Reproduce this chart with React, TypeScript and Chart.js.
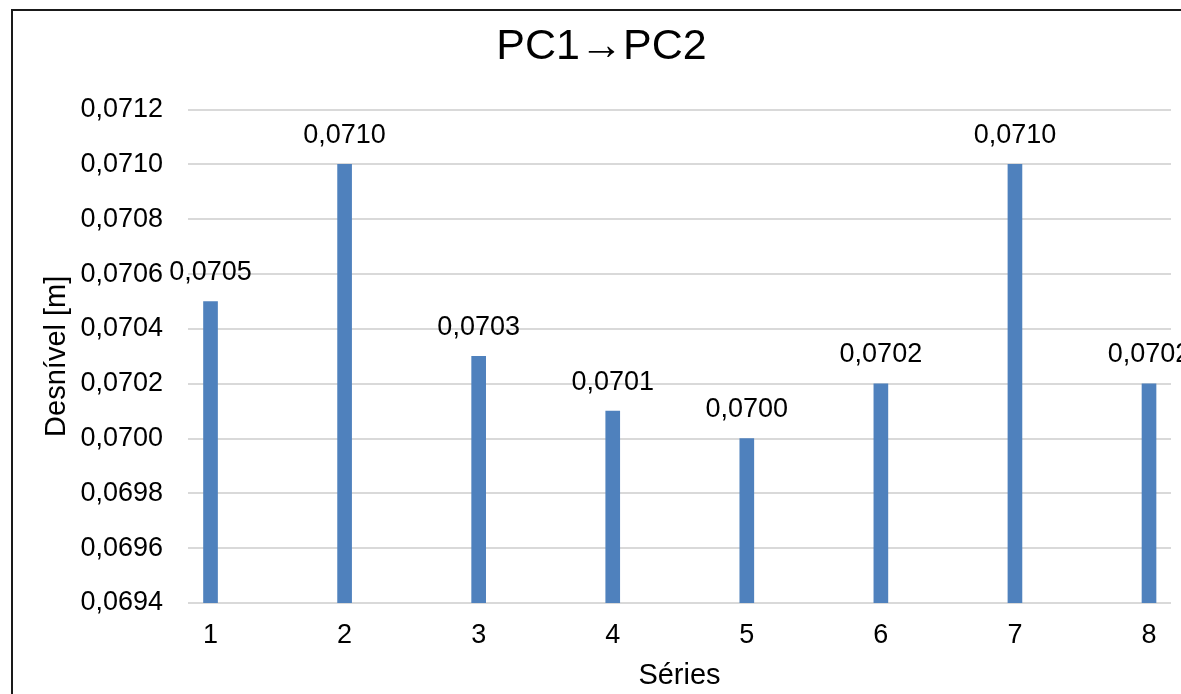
import React, { useEffect, useRef } from "react";
import { Chart, registerables } from "chart.js";

Chart.register(...registerables);

const chartTitle = "PC1→PC2";
const xAxisTitle = "Séries";
const yAxisTitle = "Desnível [m]";
const categories = [1, 2, 3, 4, 5, 6, 7, 8];
const values = [0.0705, 0.071, 0.0703, 0.0701, 0.07, 0.0702, 0.071, 0.0702];
const yTicks = [0.0694, 0.0696, 0.0698, 0.07, 0.0702, 0.0704, 0.0706, 0.0708, 0.071, 0.0712];

const FONT = "'Liberation Sans', Arial, sans-serif";
const fmt = (v: number) => v.toFixed(4).replace(".", ",");

export default function App() {
  const ref = useRef<HTMLCanvasElement | null>(null);

  useEffect(() => {
    if (!ref.current) return;
    Chart.defaults.font.family = FONT;

    const bgBorder = {
      id: "bgBorder",
      beforeDraw(chart: any) {
        const ctx = chart.ctx;
        ctx.save();
        ctx.fillStyle = "#ffffff";
        ctx.fillRect(0, 0, chart.width, chart.height);
        ctx.strokeStyle = "#1a1a1a";
        ctx.lineWidth = 2;
        ctx.beginPath();
        ctx.moveTo(12, chart.height + 2);
        ctx.lineTo(12, 10);
        ctx.lineTo(chart.width + 2, 10);
        ctx.stroke();
        ctx.restore();
      },
    };

    const dataLabels = {
      id: "dataLabels",
      afterDatasetsDraw(chart: any) {
        const ctx = chart.ctx;
        const meta = chart.getDatasetMeta(0);
        ctx.save();
        ctx.font = `27px ${FONT}`;
        ctx.fillStyle = "#000000";
        ctx.textAlign = "center";
        ctx.textBaseline = "middle";
        meta.data.forEach((el: any, i: number) => {
          ctx.fillText(fmt(values[i]), el.x, el.y - 29);
        });
        ctx.restore();
      },
    };

    const chart = new Chart(ref.current, {
      type: "bar",
      data: {
        datasets: [
          {
            data: categories.map((c, i) => ({ x: c, y: values[i] })),
            backgroundColor: "#4f81bd",
            borderWidth: 0,
            barThickness: 14,
          },
        ],
      },
      options: {
        responsive: false,
        animation: false,
        layout: { padding: { top: 0, left: 0, right: 0, bottom: 0 } },
        plugins: {
          legend: { display: false },
          tooltip: { enabled: false },
          title: {
            display: true,
            text: chartTitle,
            color: "#000000",
            font: { size: 43, weight: "normal", family: FONT },
            padding: { top: 21, bottom: 37 },
          },
        },
        scales: {
          x: {
            type: "linear",
            offset: false,
            min: 0.832,
            max: 8.164,
            afterBuildTicks: (scale: any) => {
              scale.ticks = categories.map((v) => ({ value: v }));
            },
            afterFit: (scale: any) => {
              scale.height = 91;
            },
            grid: { display: false, drawTicks: false, offset: false },
            border: { display: false },
            ticks: {
              color: "#000000",
              font: { size: 27, family: FONT },
              padding: 16,
              autoSkip: false,
              maxRotation: 0,
              callback: (v: any) => String(v),
            },
            title: {
              display: true,
              text: xAxisTitle,
              color: "#000000",
              font: { size: 29, family: FONT },
              padding: { top: 0, bottom: 1 },
            },
          },
          y: {
            type: "linear",
            min: 0.0694,
            max: 0.0712,
            afterBuildTicks: (scale: any) => {
              scale.ticks = yTicks.map((v) => ({ value: v }));
            },
            afterFit: (scale: any) => {
              scale.width = 188;
            },
            grid: { color: "#d9d9d9", lineWidth: 2, drawTicks: false },
            border: { display: false },
            ticks: {
              color: "#000000",
              font: { size: 27, family: FONT },
              padding: 25,
              callback: (v: any) => fmt(Number(v)),
            },
            title: {
              display: true,
              text: yAxisTitle,
              color: "#000000",
              font: { size: 29, family: FONT },
              padding: { top: 40, bottom: 0 },
            },
          },
          yRight: {
            type: "linear",
            position: "right",
            display: true,
            min: 0,
            max: 1,
            afterFit: (scale: any) => {
              scale.width = 32;
            },
            grid: { display: false, drawTicks: false },
            border: { display: false },
            ticks: { display: false },
          },
        },
      },
      plugins: [bgBorder, dataLabels],
    } as any);

    return () => chart.destroy();
  }, []);

  return (
    <div
      style={{
        position: "fixed",
        left: 0,
        top: 0,
        width: 1181,
        height: 694,
        overflow: "hidden",
        background: "#ffffff",
      }}
    >
      <canvas ref={ref} width={1203} height={694} style={{ display: "block" }} />
    </div>
  );
}
